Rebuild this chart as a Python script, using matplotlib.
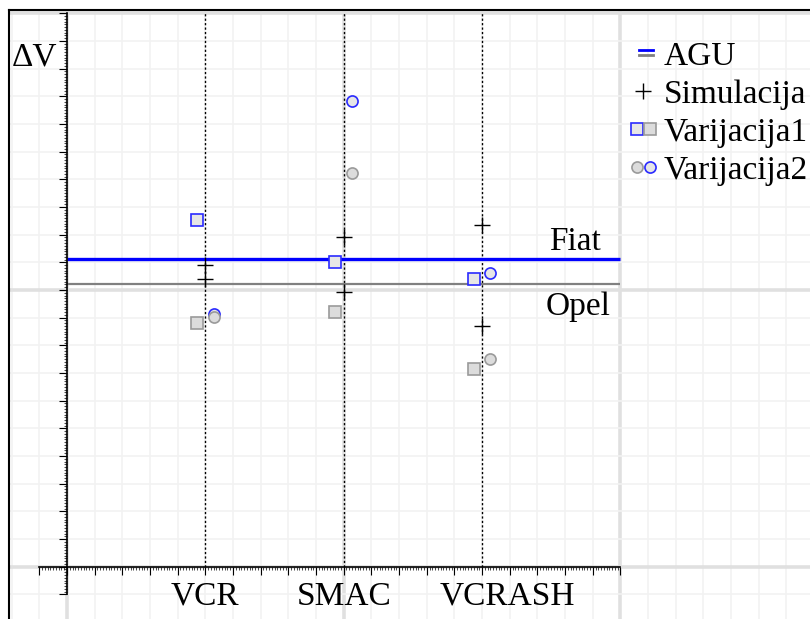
import numpy as np
import matplotlib
matplotlib.use('Agg')
import matplotlib.pyplot as plt
from matplotlib.lines import Line2D
from matplotlib.legend_handler import HandlerBase, HandlerTuple
from matplotlib.ticker import FixedLocator

plt.rcParams['font.family'] = ['Liberation Serif', 'DejaVu Serif']

# Methods along the horizontal axis
methods = ['VCR', 'SMAC', 'VCRASH']
method_x = [5, 10, 15]

# AGU reference values (horizontal lines)
agu_fiat = 11.11
agu_opel = 10.22

# Simulation results per method
sim_fiat = [10.90, 11.93, 12.35]
sim_opel = [10.40, 9.94, 8.70]

# Variation 1 (squares)
var1_fiat = [12.53, 11.02, 10.41]
var1_opel = [8.82, 9.22, 7.13]

# Variation 2 (circles)
var2_fiat = [9.13, 16.82, 10.63]
var2_opel = [9.02, 14.22, 7.52]

BLUE = '#0000ff'
BLUE_EDGE = '#2a2aff'
GREY_LINE = '#808080'
GREY_EDGE = '#9a9a9a'
FILL_LIGHT = '#e6e6e6'
FILL_GREY = '#dcdcdc'
FS = 24

W, H = 810, 619
fig = plt.figure(figsize=(W / 100, H / 100), dpi=100)
ax = fig.add_axes([9 / W, 0, 1 - 9 / W, 1 - 10 / H])
ax.set_xlim(-2.096, 26.85)
ax.set_ylim(-1.89, 20.12)

# background grid: unit lines and heavier lines every 10 units
for v in range(-2, 27):
    major = v % 10 == 0
    ax.axvline(v, color='#e0e0e0' if major else '#f2f2f2',
               lw=2.6 if major else 1.2, zorder=0)
for v in range(-1, 21):
    major = v % 10 == 0
    ax.axhline(v, color='#e0e0e0' if major else '#f2f2f2',
               lw=2.6 if major else 1.2, zorder=0)

# axes crossing at the origin with ruler-style ticks
for side in ('left', 'bottom'):
    ax.spines[side].set_position(('data', 0))
    ax.spines[side].set_bounds(-1, 20)
    ax.spines[side].set_linewidth(1.2)
    ax.spines[side].set_zorder(3)
ax.spines['right'].set_visible(False)
ax.spines['top'].set_linewidth(1.5)
ax.xaxis.set_ticks_position('bottom')
ax.yaxis.set_ticks_position('left')
for axis in (ax.xaxis, ax.yaxis):
    axis.set_major_locator(FixedLocator(np.arange(-1, 21)))
    axis.set_minor_locator(FixedLocator(np.arange(-10, 201) / 10))
ax.tick_params(which='major', direction='out', length=5.5, width=0.8,
               labelbottom=False, labelleft=False)
ax.tick_params(which='minor', direction='out', length=2.0, width=0.5)

# left frame edge of the drawing area
fig.add_artist(Line2D([9 / W, 9 / W], [0, 1 - 10 / H], transform=fig.transFigure,
                      color='black', lw=1.5))

# dotted guides for each method
ax.vlines(method_x, 0, 20, colors='black', linestyles=(0, (1.6, 1.6)), lw=1.0, zorder=2)

# AGU reference lines
ax.hlines([agu_fiat], 0, 20, colors=BLUE, lw=2.4, zorder=3)
ax.hlines([agu_opel], 0, 20, colors=GREY_LINE, lw=1.6, zorder=3)

# simulation crosses
ax.plot(method_x + method_x, sim_fiat + sim_opel, ls='none', marker='+',
        color='black', ms=12, mew=1.0, zorder=4)

# variation 1 squares (left of the guide)
xs = np.array(method_x) - 0.3
ax.plot(xs, var1_fiat, ls='none', marker='s', ms=8, mfc=FILL_LIGHT,
        mec=BLUE_EDGE, mew=1.2, zorder=4)
ax.plot(xs, var1_opel, ls='none', marker='s', ms=8, mfc=FILL_GREY,
        mec=GREY_EDGE, mew=1.2, zorder=4)

# variation 2 circles (right of the guide)
xc = np.array(method_x) + 0.3
ax.plot(xc, var2_fiat, ls='none', marker='o', ms=8, mfc=FILL_LIGHT,
        mec=BLUE_EDGE, mew=1.2, zorder=4)
ax.plot(xc, var2_opel, ls='none', marker='o', ms=8, mfc=FILL_GREY,
        mec=GREY_EDGE, mew=1.2, zorder=5)

# texts
ax.text(-1.98, 18.10, 'ΔV', fontsize=FS, ha='left', va='baseline')
ax.text(17.42, 11.44, 'Fiat', fontsize=FS, ha='left', va='baseline')
ax.text(17.31, 9.10, 'Opel', fontsize=FS, ha='left', va='baseline')
label_shift = [0.0, 0.0, 0.9]
for name, x, dx in zip(methods, method_x, label_shift):
    ax.text(x + dx, -1.384, name, fontsize=FS, ha='center', va='baseline')


class StackedLines(HandlerBase):
    """Two short horizontal strokes, one above the other."""

    def create_artists(self, legend, orig_handle, xdescent, ydescent,
                       width, height, fontsize, trans):
        x0 = -xdescent + width * 0.35
        x1 = -xdescent + width * 0.85
        yc = -ydescent + height * 0.55
        gap = fontsize * 0.16
        arts = []
        for k, src in enumerate(orig_handle):
            y = yc + gap * (0.5 - k)
            ln = Line2D([x0, x1], [y, y], color=src.get_color(), lw=2.0)
            ln.set_transform(trans)
            arts.append(ln)
        return arts


h_agu = (Line2D([], [], color=BLUE), Line2D([], [], color=GREY_LINE))
h_sim = Line2D([], [], ls='none', marker='+', color='black', ms=12, mew=1.0)
h_var1 = (Line2D([], [], ls='none', marker='s', ms=8, mfc=FILL_LIGHT, mec=BLUE_EDGE, mew=1.2),
          Line2D([], [], ls='none', marker='s', ms=8, mfc=FILL_GREY, mec=GREY_EDGE, mew=1.2))
h_var2 = (Line2D([], [], ls='none', marker='o', ms=8, mfc=FILL_GREY, mec=GREY_EDGE, mew=1.2),
          Line2D([], [], ls='none', marker='o', ms=8, mfc=FILL_LIGHT, mec=BLUE_EDGE, mew=1.2))

leg = ax.legend([h_agu, h_sim, h_var1, h_var2],
                ['AGU', 'Simulacija', 'Varijacija1', 'Varijacija2'],
                handler_map={h_agu: StackedLines(),
                             h_var1: HandlerTuple(ndivide=2, pad=0.0),
                             h_var2: HandlerTuple(ndivide=2, pad=0.0)},
                loc='upper right', bbox_to_anchor=(0.997, 0.948),
                frameon=False, fontsize=FS, handlelength=0.8, handletextpad=0.2,
                labelspacing=0.22, borderpad=0.0, borderaxespad=0.0)

fig.savefig('out.png', dpi=100, facecolor='white')
